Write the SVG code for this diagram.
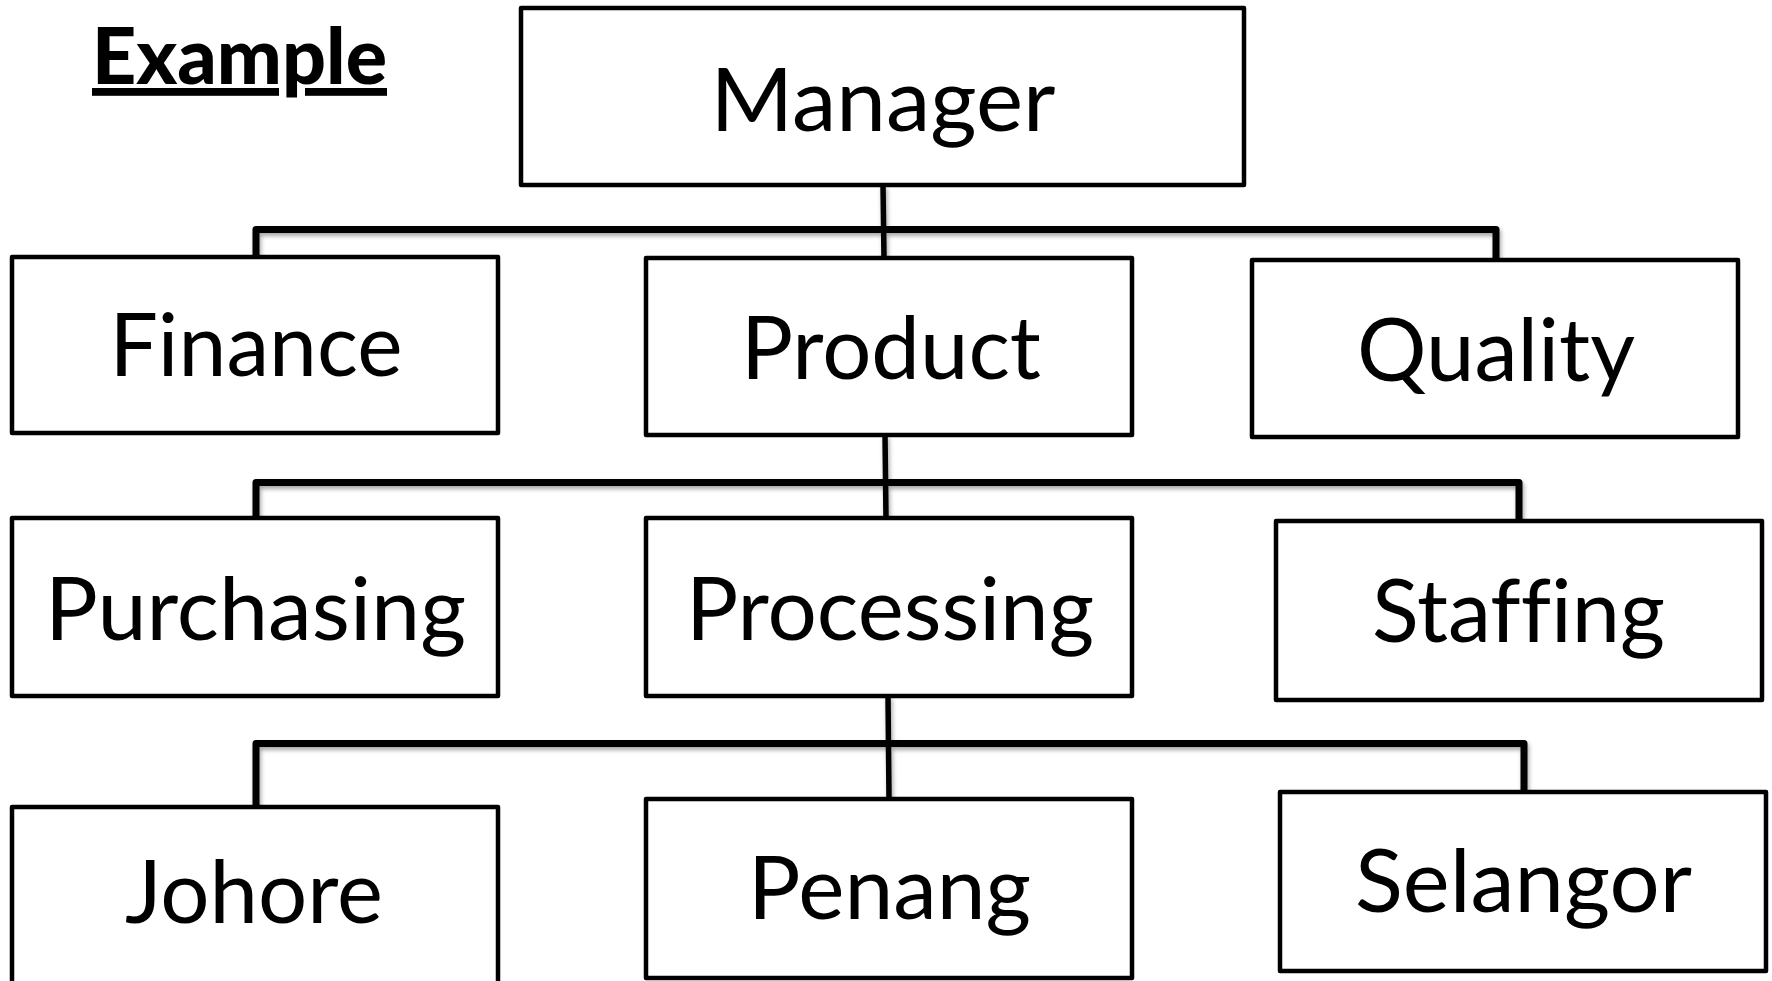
<svg xmlns="http://www.w3.org/2000/svg" width="1772" height="981" viewBox="0 0 1772 981">
<style>
.box{fill:#fff;stroke:#000;stroke-width:4.5;stroke-linejoin:round}
.lbl{font-family:Lato,"Open Sans","Liberation Sans",sans-serif;font-size:87px;fill:#000;text-anchor:middle;font-variant-ligatures:none}
.title{font-family:Lato,"Open Sans","Liberation Sans",sans-serif;font-size:78px;font-weight:900;fill:#000;text-decoration:underline}
.elbow{fill:none;stroke:#000;stroke-width:7;stroke-linejoin:round}
.stem{fill:none;stroke:#000;stroke-width:5.5}
</style>
<defs>
<filter id="sh" x="-5%" y="-50%" width="110%" height="200%">
<feDropShadow dx="1.5" dy="3" stdDeviation="2" flood-color="#000" flood-opacity="0.35"/>
</filter>
</defs>
<rect width="1772" height="981" fill="#fff"/>
<text class="title" x="92" y="84" textLength="295" lengthAdjust="spacingAndGlyphs">Example</text>
<g id="connectors" filter="url(#sh)">
<path class="elbow" d="M256,257 V229.5 H1496 V260"/>
<path class="stem" d="M883,185 L884,258"/>
<path class="elbow" d="M256,518 V482.5 H1519 V521"/>
<path class="stem" d="M885,435 L886,518"/>
<path class="elbow" d="M256,807 V743.5 H1524 V792"/>
<path class="stem" d="M888,696 L889,799"/>
</g>
<g id="manager"><rect class="box" x="521" y="8" width="723" height="177"/><text class="lbl" x="883" y="131" textLength="345" lengthAdjust="spacingAndGlyphs">Manager</text></g>
<g id="finance"><rect class="box" x="12" y="257" width="486" height="176"/><text class="lbl" x="256" y="376" textLength="293" lengthAdjust="spacingAndGlyphs">Finance</text></g>
<g id="product"><rect class="box" x="646" y="258" width="486" height="177"/><text class="lbl" x="891" y="379" textLength="300" lengthAdjust="spacingAndGlyphs">Product</text></g>
<g id="quality"><rect class="box" x="1252" y="260" width="486" height="177"/><text class="lbl" x="1496" y="381" textLength="278" lengthAdjust="spacingAndGlyphs">Quality</text></g>
<g id="purchasing"><rect class="box" x="12" y="518" width="486" height="178"/><text class="lbl" x="255.5" y="640" textLength="421" lengthAdjust="spacingAndGlyphs">Purchasing</text></g>
<g id="processing"><rect class="box" x="646" y="518" width="486" height="178"/><text class="lbl" x="890" y="640" textLength="408" lengthAdjust="spacingAndGlyphs">Processing</text></g>
<g id="staffing"><rect class="box" x="1276" y="521" width="486" height="179"/><text class="lbl" x="1518.5" y="642" textLength="293" lengthAdjust="spacingAndGlyphs">Staffing</text></g>
<g id="johore"><rect class="box" x="12" y="807" width="486" height="178"/><text class="lbl" x="254" y="923" textLength="258" lengthAdjust="spacingAndGlyphs">Johore</text></g>
<g id="penang"><rect class="box" x="646" y="799" width="486" height="179"/><text class="lbl" x="889.5" y="919" textLength="283" lengthAdjust="spacingAndGlyphs">Penang</text></g>
<g id="selangor"><rect class="box" x="1280" y="792" width="486" height="179"/><text class="lbl" x="1523.5" y="912" textLength="337" lengthAdjust="spacingAndGlyphs">Selangor</text></g>
</svg>
